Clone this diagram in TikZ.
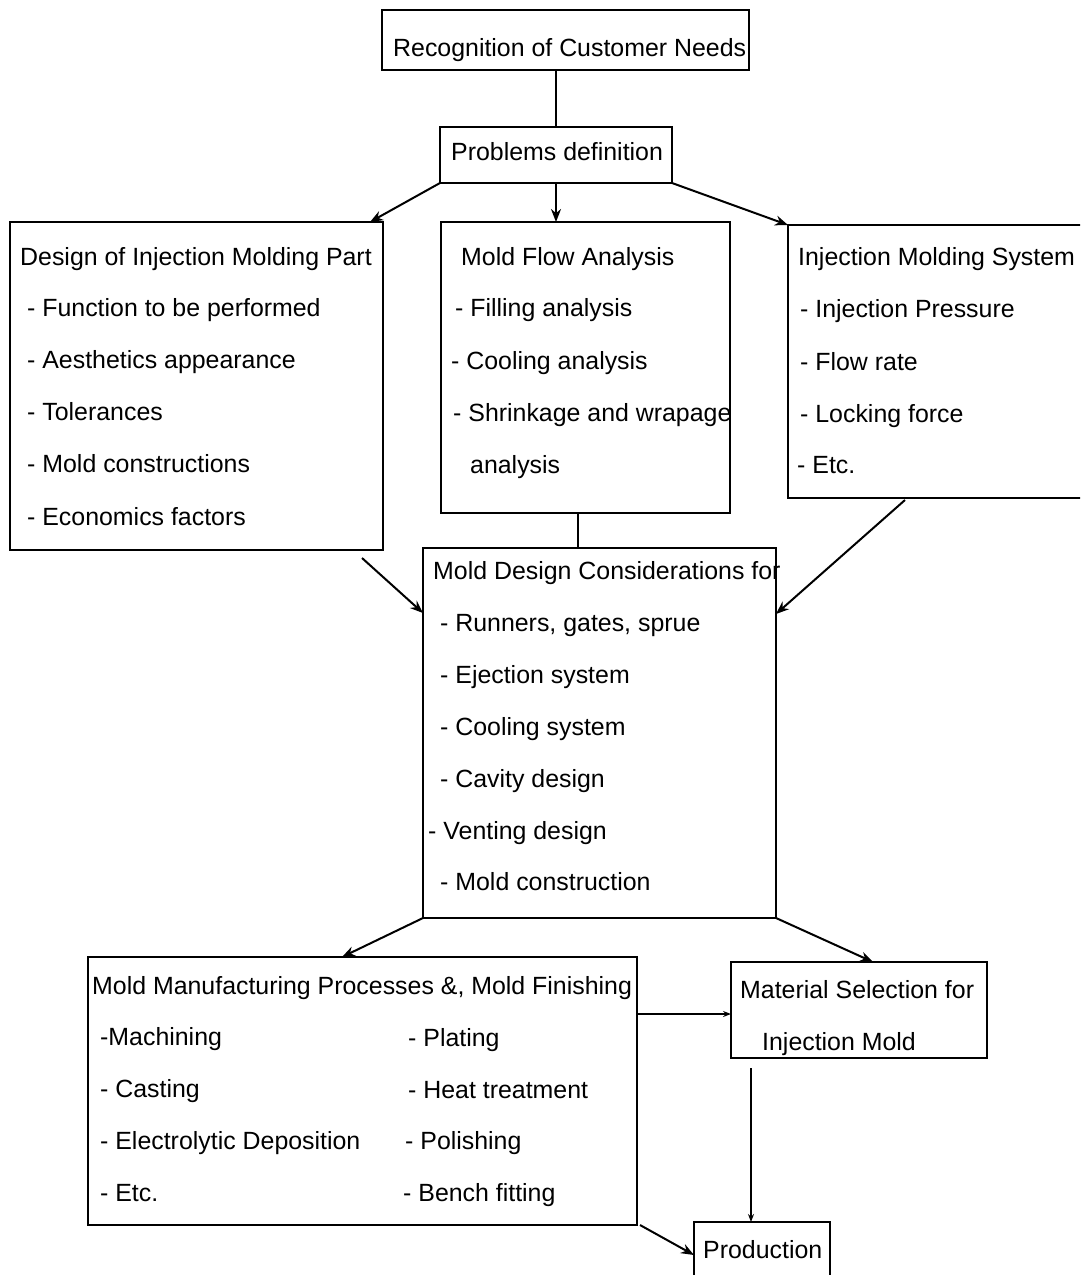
\documentclass[tikz,border=0pt]{standalone}
\usepackage{fontspec}
\setmainfont{Liberation Sans}
\usetikzlibrary{calc,arrows.meta}
\begin{document}
\begin{tikzpicture}[x=1pt,y=-1pt,
  box/.style={draw, line width=2pt, rectangle, inner sep=0pt, outer sep=0pt, anchor=north west},
  txt/.style={anchor=base west, inner sep=0pt, font=\fontsize{24.9}{30}\selectfont},
  conn/.style={line width=2pt},
  arr/.style={line width=2pt, -{Stealth[length=13pt,width=10pt]}},
  sarr/.style={line width=2pt, -{Stealth[length=8pt,width=6pt]}}]
\useasboundingbox (0,0) rectangle (1080,1275);
\begin{scope}
\clip (0,0) rectangle (1080,1275);
% boxes
\node[box, minimum width=367pt, minimum height=60pt] (b1) at (382,10) {};
\node[box, minimum width=232pt, minimum height=56pt] (b2) at (440,127) {};
\node[box, minimum width=373pt, minimum height=328pt] (b3) at (10,222) {};
\node[box, minimum width=289pt, minimum height=291pt] (b4) at (441,222) {};
\node[box, minimum width=310pt, minimum height=273pt] (b5) at (788,225) {};
\node[box, minimum width=353pt, minimum height=370pt] (b6) at (423,548) {};
\node[box, minimum width=549pt, minimum height=268pt] (b7) at (88,957) {};
\node[box, minimum width=256pt, minimum height=96pt] (b8) at (731,962) {};
\node[box, minimum width=136pt, minimum height=80pt] (b9) at (694,1222) {};
\end{scope}
% texts
\node[txt] (t1) at (393,56) {Recognition of Customer Needs};
\node[txt] (t2) at (451,160) {Problems definition};
\node[txt] (t3a) at (20,265) {Design of Injection Molding Part};
\node[txt] (t3b) at (27,316) {- Function to be performed};
\node[txt] (t3c) at (27,368) {- Aesthetics appearance};
\node[txt] (t3d) at (27,420) {- Tolerances};
\node[txt] (t3e) at (27,472) {- Mold constructions};
\node[txt] (t3f) at (27,525) {- Economics factors};
\node[txt] (t4a) at (461,265) {Mold Flow Analysis};
\node[txt] (t4b) at (455,316) {- Filling analysis};
\node[txt] (t4c) at (451,369) {- Cooling analysis};
\node[txt] (t4d) at (453,421) {- Shrinkage and wrapage};
\node[txt] (t4e) at (470,473) {analysis};
\node[txt] (t5a) at (798,265) {Injection Molding System};
\node[txt] (t5b) at (800,317) {- Injection Pressure};
\node[txt] (t5c) at (800,370) {- Flow rate};
\node[txt] (t5d) at (800,422) {- Locking force};
\node[txt] (t5e) at (797,473) {- Etc.};
\node[txt] (t6a) at (433,579) {Mold Design Considerations for};
\node[txt] (t6b) at (440,631) {- Runners, gates, sprue};
\node[txt] (t6c) at (440,683) {- Ejection system};
\node[txt] (t6d) at (440,735) {- Cooling system};
\node[txt] (t6e) at (440,787) {- Cavity design};
\node[txt] (t6f) at (428,839) {- Venting design};
\node[txt] (t6g) at (440,890) {- Mold construction};
\node[txt] (t7a) at (92,994) {Mold Manufacturing Processes \&, Mold Finishing};
\node[txt] (t7b) at (100,1045) {-Machining};
\node[txt] (t7c) at (100,1097) {- Casting};
\node[txt] (t7d) at (100,1149) {- Electrolytic Deposition};
\node[txt] (t7e) at (100,1201) {- Etc.};
\node[txt] (t7f) at (408,1046) {- Plating};
\node[txt] (t7g) at (408,1098) {- Heat treatment};
\node[txt] (t7h) at (405,1149) {- Polishing};
\node[txt] (t7i) at (403,1201) {- Bench fitting};
\node[txt] (t8a) at (740,998) {Material Selection for};
\node[txt] (t8b) at (762,1050) {Injection Mold};
\node[txt] (t9) at (703,1258) {Production};
% connectors
\draw[conn] (b2.north |- b1.south) -- (b2.north);
\draw[arr] (b2.south west) -- ($(b3.north east)+(-13,0)$);
\draw[arr] (b2.south) -- (b2.south |- b4.north);
\draw[arr] (b2.south east) -- (b5.north west);
\draw[conn] ($(b4.south)+(-7.5,0)$) -- ($(b6.north west)+(155,0)$);
\draw[arr] ($(b3.south east)+(-21,8)$) -- ($(b6.north west)+(0,65)$);
\draw[arr] ($(b5.south west)+(117,2)$) -- ($(b6.north east)+(0,66)$);
\draw[arr] (b6.south west) -- ($(b7.north west)+(254,0)$);
\draw[arr] (b6.south east) -- ($(b8.north west)+(142,0)$);
\draw[sarr] ($(b7.north east)+(0,57)$) -- ($(b8.north west)+(0,52)$);
\draw[sarr] ($(b8.south west)+(20,10)$) -- ($(b9.north west)+(57,0)$);
\draw[arr] ($(b7.south east)+(3,0)$) -- ($(b9.north west)+(0,33)$);
\end{tikzpicture}
\end{document}
